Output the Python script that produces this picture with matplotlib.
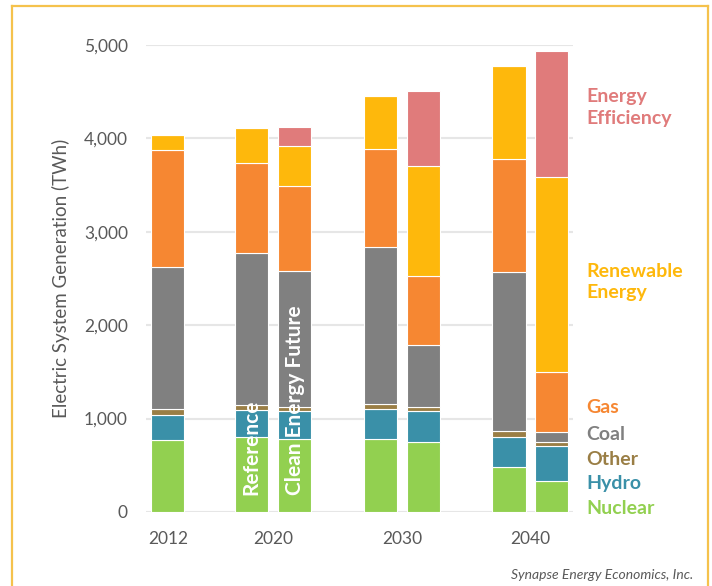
import matplotlib
matplotlib.use('Agg')
import matplotlib.pyplot as plt
from matplotlib.lines import Line2D
import numpy as np

plt.rcParams['font.family'] = ['Lato', 'DejaVu Sans']

# Bars: 2012, 2020 Ref, 2020 CEF, 2030 Ref, 2030 CEF, 2040 Ref, 2040 CEF
nuclear = [766, 798, 784, 777, 749, 485, 335]
hydro = [268, 297, 300, 328, 327, 321, 374]
other = [71, 46, 43, 46, 47, 56, 36]
coal = [1520, 1637, 1458, 1684, 670, 1712, 111]
gas = [1252, 956, 906, 1052, 732, 1209, 645]
renewable = [159, 381, 425, 567, 1180, 992, 2090]
efficiency = [0, 0, 210, 0, 800, 0, 1348]

series = [nuclear, hydro, other, coal, gas, renewable, efficiency]
names = ['Nuclear', 'Hydro', 'Other', 'Coal', 'Gas', 'Renewable\nEnergy', 'Energy\nEfficiency']
colors = ['#92D050', '#3A90A8', '#9A7E45', '#808080', '#F68732', '#FEB80C', '#E07B7B']

years = ['2012', '2020', '2030', '2040']

# layout
pos = np.array([0, 1.95, 2.95, 4.95, 5.95, 7.93, 8.91])
year_pos = [0, 2.45, 5.45, 8.42]
width = 0.77

fig = plt.figure(figsize=(7.12, 5.86), dpi=100)
ax = fig.add_axes([0.205, 0.1263, 0.6, 0.7969])

bottom = np.zeros(len(pos))
for vals, c in zip(series, colors):
    v = np.array(vals, dtype=float)
    ax.bar(pos, v, width, bottom=bottom, color=c, edgecolor='white',
           linewidth=0.8, zorder=3)
    bottom += v

ax.set_xlim(-0.51, 9.42)
ax.set_ylim(0, 5000)
ax.set_yticks([0, 1000, 2000, 3000, 4000, 5000])
ax.set_yticklabels(['0', '1,000', '2,000', '3,000', '4,000', '5,000'])
ax.set_xticks(year_pos)
ax.set_xticklabels(years)
ax.tick_params(axis='both', length=0, labelsize=12.5, labelcolor='#595959')
ax.tick_params(axis='y', pad=13)
ax.tick_params(axis='x', pad=14)
ax.grid(axis='y', color='#E6E6E6', linewidth=1.5, zorder=0)
for s in ax.spines.values():
    s.set_visible(False)
ax.set_ylabel('Electric System Generation (TWh)', fontsize=13.5, color='#595959',
              labelpad=10)

# scenario labels inside the bars
ax.text(pos[1], 180, 'Reference', rotation=90, color='white', fontsize=15,
        fontweight='bold', ha='center', va='bottom', zorder=5)
ax.text(pos[2], 180, 'Clean Energy Future', rotation=90, color='white',
        fontsize=15, fontweight='bold', ha='center', va='bottom', zorder=5)

# legend as coloured text on the right
label_y = [40, 300, 560, 830, 1120, 2459, 4331]
for name, c, y in zip(names, colors, label_y):
    ax.text(9.73, y, name, color=c, fontsize=14, fontweight='bold',
            ha='left', va='center', linespacing=1.3, clip_on=False)

fig.text(0.973, 0.018, 'Synapse Energy Economics, Inc.', fontsize=10,
         style='italic', color='#595959', ha='right', va='center')

# gold frame
gold = '#F5C24C'
x0, x1, yt = 12 / 712, 708 / 712, 1 - 6 / 586
fig.add_artist(Line2D([x0, x0], [0, yt], color=gold, linewidth=1.6))
fig.add_artist(Line2D([x0, x1], [yt, yt], color=gold, linewidth=1.6))
fig.add_artist(Line2D([x1, x1], [yt, 0], color=gold, linewidth=1.6))

fig.savefig('out.png', dpi=100)
